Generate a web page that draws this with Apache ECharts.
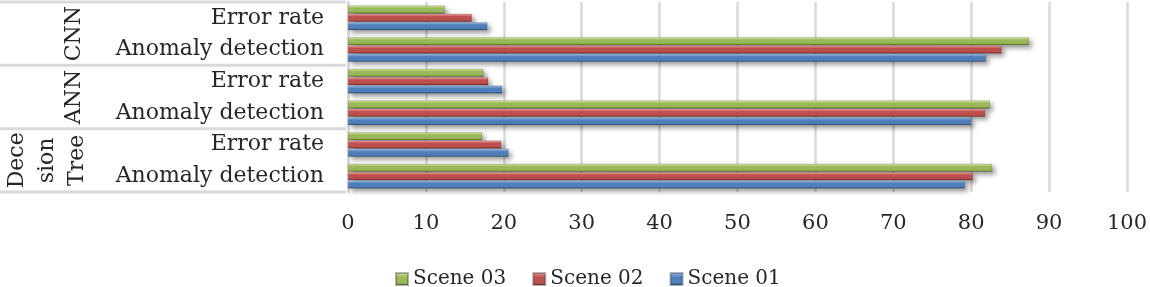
<!DOCTYPE html>
<html>
<head>
<meta charset="utf-8">
<script src="https://cdn.jsdelivr.net/npm/echarts@6/dist/echarts.min.js"></script>
<style>
  html, body { margin: 0; padding: 0; background: #fff; }
  #chart { width: 1150px; height: 287px; }
</style>
</head>
<body>
<div id="chart"></div>
<script>
// categories, bottom to top (as ECharts lays out a vertical category axis)
const groups = ['Decision Tree', 'ANN', 'CNN'];
const metrics = ['Anomaly detection', 'Error rate'];
const groupLabels = ['Dece\nsion\nTree', 'ANN', 'CNN'];

// values per category: DT anomaly, DT error, ANN anomaly, ANN error, CNN anomaly, CNN error
const scene01 = [79.2, 20.6, 80.0, 19.8, 81.9, 17.9];
const scene02 = [80.2, 19.7, 81.8, 18.0, 83.9, 15.9];
const scene03 = [82.7, 17.2, 82.4, 17.4, 87.4, 12.4];

const xTicks = [0, 10, 20, 30, 40, 50, 60, 70, 80, 90, 100];

const categories = [];
groups.forEach(function (g) {
    metrics.forEach(function (m) {
        categories.push(g + '|' + m);
    });
});

const chartDom = document.getElementById('chart');
const myChart = echarts.init(chartDom);

const gridLeft = 348, gridTop = 2, gridHeight = 190;
const groupH = gridHeight / groups.length;
const serif = 'DejaVu Serif';

// cylinder-like fill across the bar thickness
function tube(light, mid, dark) {
    return new echarts.graphic.LinearGradient(0, 0, 0, 1, [
        { offset: 0, color: light },
        { offset: 0.35, color: mid },
        { offset: 0.75, color: mid },
        { offset: 1, color: dark }
    ]);
}

function barSeries(name, data, fill) {
    return {
        name: name,
        type: 'bar',
        data: data,
        barGap: '4%',
        barCategoryGap: '22%',
        itemStyle: {
            color: fill,
            borderColor: 'rgba(40,40,40,0.35)',
            borderWidth: 0.5,
            shadowColor: 'rgba(0,0,0,0.4)',
            shadowBlur: 5,
            shadowOffsetX: 3,
            shadowOffsetY: 3
        }
    };
}

// left table: separators and group names
const graphics = [];
for (let i = 0; i <= groups.length; i++) {
    const y = gridTop + i * groupH;
    graphics.push({
        type: 'rect',
        shape: { x: 0, y: y - 1.5, width: gridLeft - 2, height: 3 },
        style: { fill: '#d9d9d9' },
        silent: true
    });
}
groups.forEach(function (g, i) {
    // groups listed bottom to top
    const cy = gridTop + gridHeight - (i + 0.5) * groupH;
    graphics.push({
        type: 'text',
        x: i === 0 ? 47 : 74,
        y: cy,
        rotation: Math.PI / 2,
        style: {
            text: groupLabels[i],
            font: '22px "' + serif + '"',
            fill: '#262626',
            align: 'center',
            verticalAlign: 'middle',
            lineHeight: 30
        },
        silent: true
    });
});

const option = {
    backgroundColor: '#fff',
    animation: false,
    grid: {
        left: gridLeft,
        right: 20,
        top: gridTop,
        height: gridHeight
    },
    legend: {
        data: ['Scene 03', 'Scene 02', 'Scene 01'],
        left: 390,
        top: 264,
        icon: 'rect',
        itemWidth: 12,
        itemHeight: 12,
        itemGap: 26,
        textStyle: {
            fontFamily: serif,
            fontSize: 20,
            color: '#262626'
        }
    },
    xAxis: {
        type: 'value',
        min: xTicks[0],
        max: xTicks[xTicks.length - 1],
        interval: xTicks[1] - xTicks[0],
        axisLine: { show: false },
        axisTick: { show: false },
        axisLabel: {
            margin: 21,
            fontFamily: serif,
            fontSize: 21,
            color: '#262626'
        },
        splitLine: {
            lineStyle: { color: '#d9d9d9', width: 2.5 }
        }
    },
    yAxis: {
        type: 'category',
        data: categories,
        axisLine: {
            lineStyle: { color: '#d9d9d9', width: 3 }
        },
        axisTick: { show: false },
        axisLabel: {
            margin: 24,
            fontFamily: serif,
            fontSize: 22,
            color: '#262626',
            formatter: function (v) {
                return v.split('|')[1];
            }
        }
    },
    graphic: graphics,
    // series drawn top to bottom within each band
    series: [
        barSeries('Scene 03', scene03, tube('#dceaa6', '#9bbb59', '#5f7a2c')),
        barSeries('Scene 02', scene02, tube('#f5aaa8', '#c0504d', '#7f2f2d')),
        barSeries('Scene 01', scene01, tube('#a9c8ef', '#4f81bd', '#2f4f7a'))
    ]
};

myChart.setOption(option);
</script>
</body>
</html>
